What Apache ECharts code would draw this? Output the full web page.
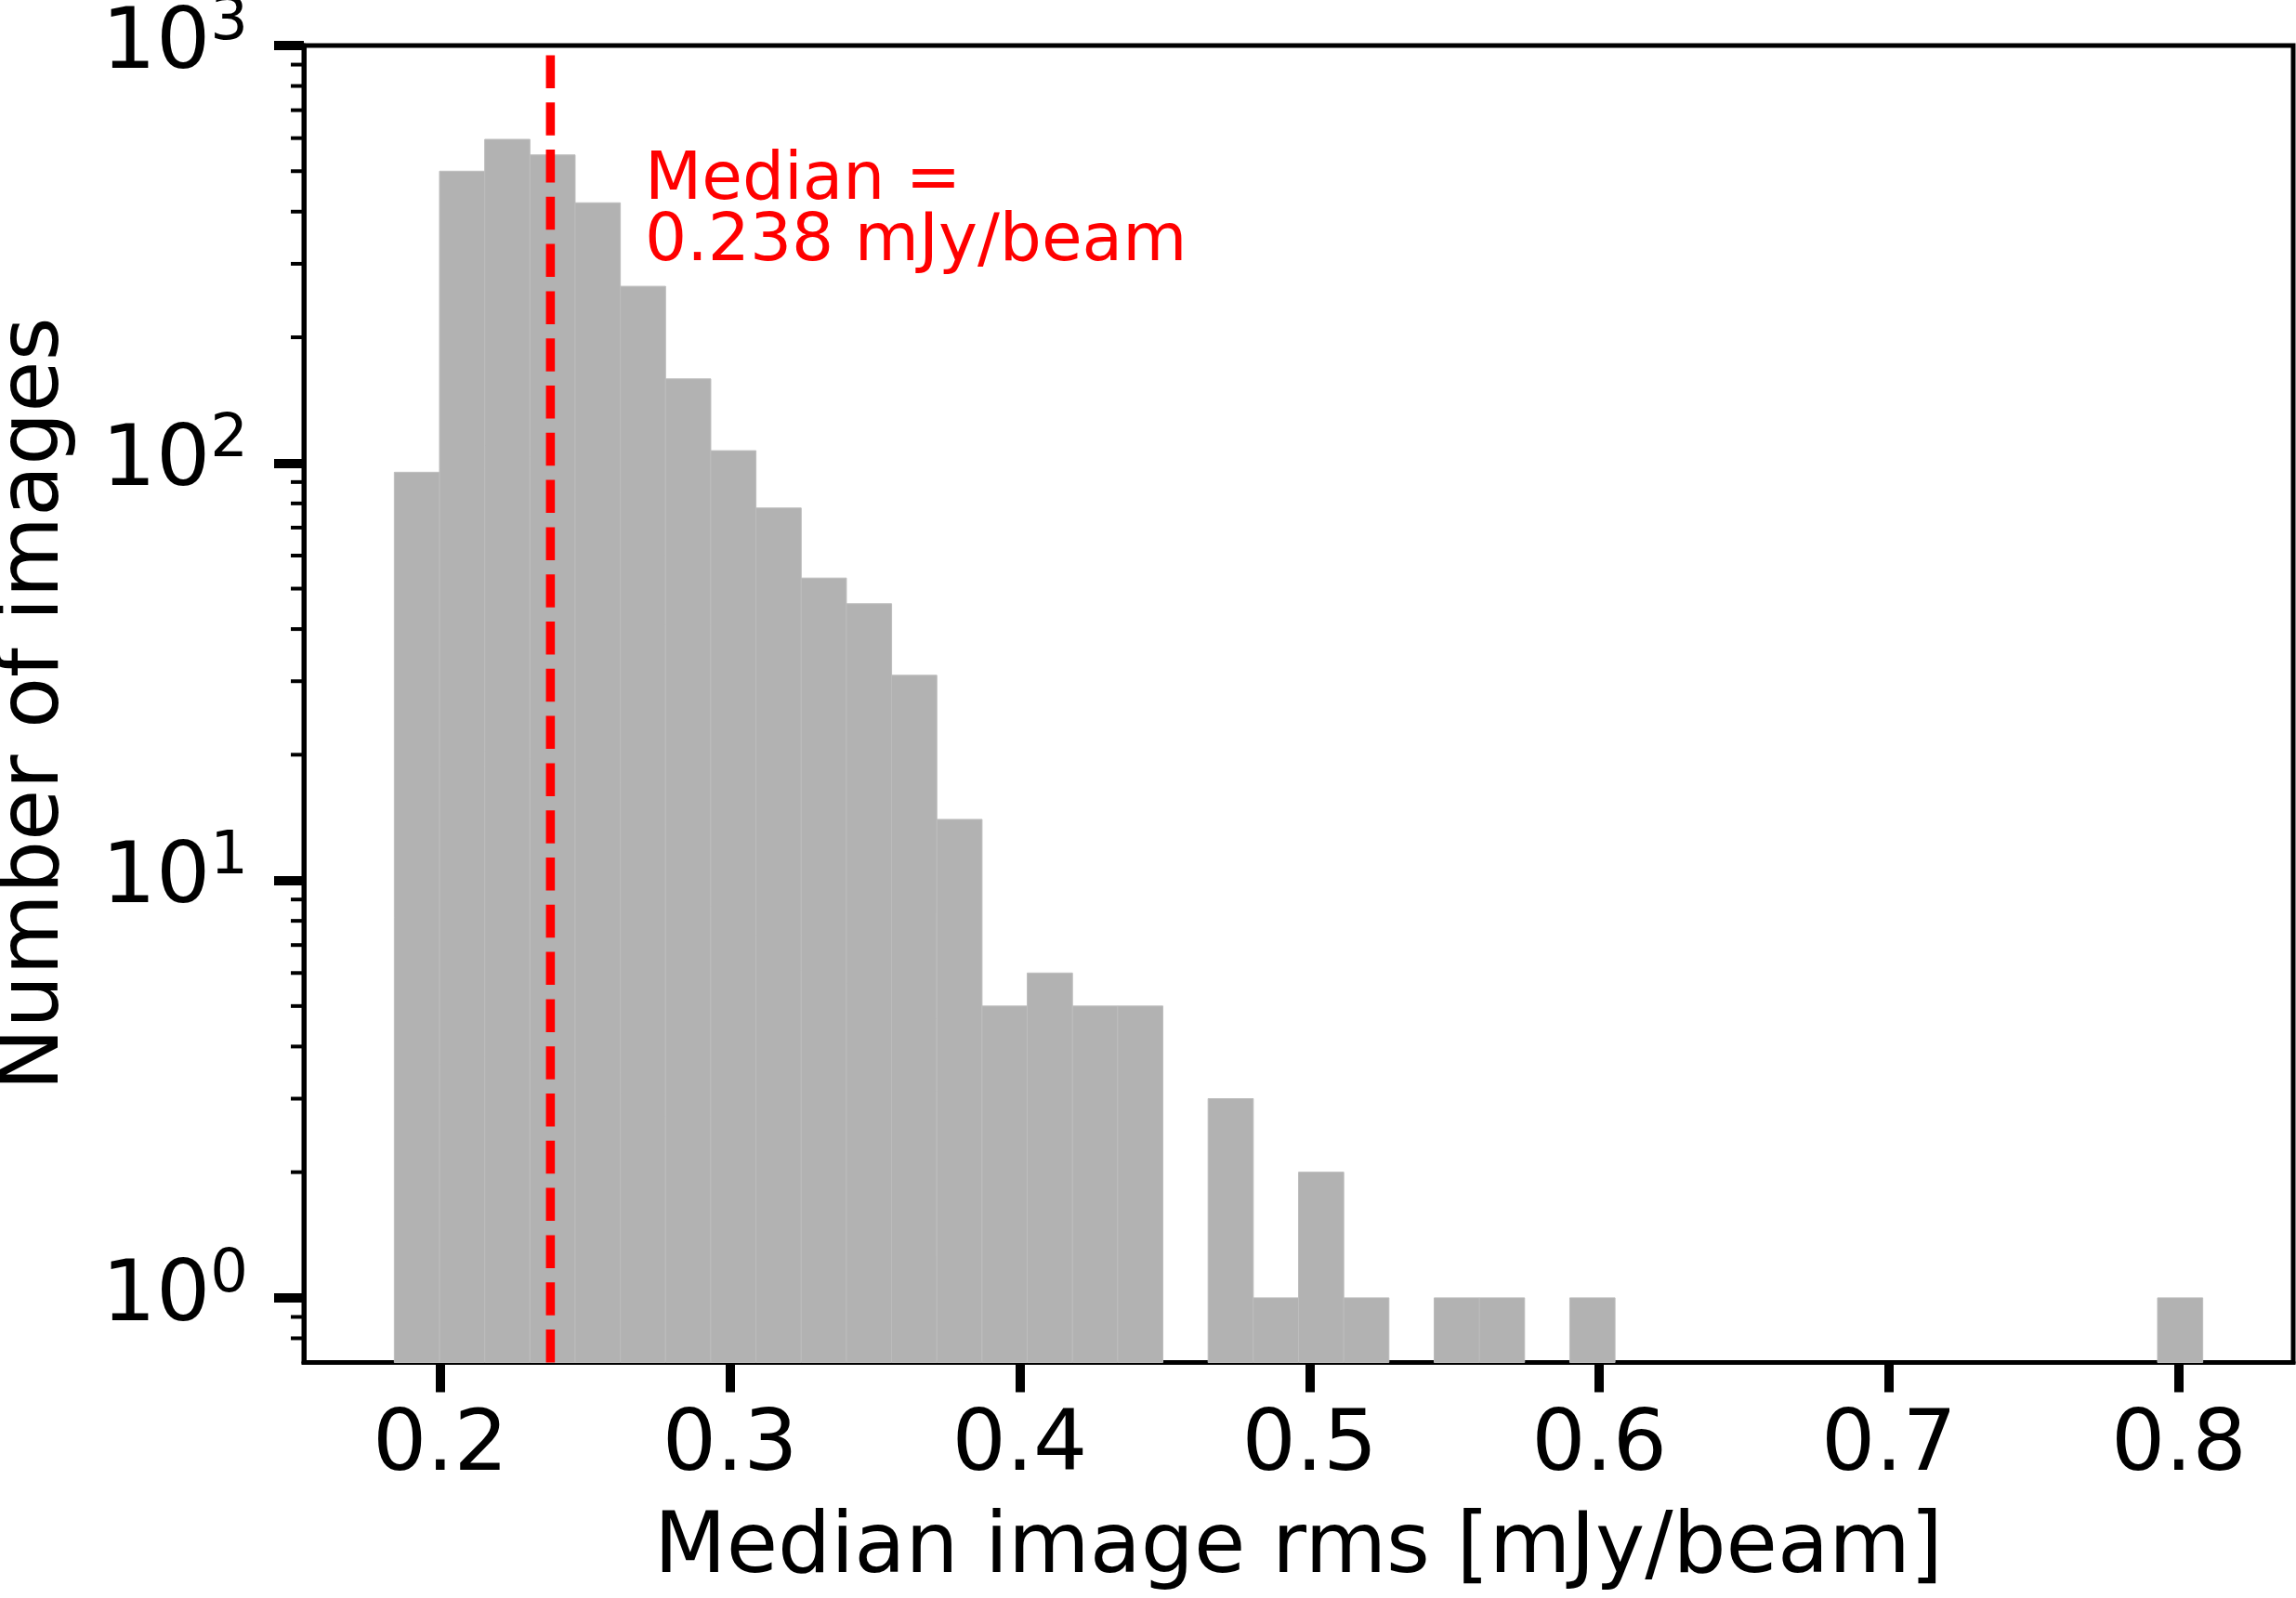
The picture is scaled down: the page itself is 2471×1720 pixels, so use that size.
<!DOCTYPE html>
<html>
<head>
<meta charset="utf-8">
<script src="https://cdn.jsdelivr.net/npm/echarts@6/dist/echarts.min.js"></script>
<style>
  html, body { margin: 0; padding: 0; background: #ffffff; }
  #chart { width: 2471px; height: 1720px; }
</style>
</head>
<body>
<div id="chart"></div>
<script>
// ---- data ----
const binStart = 0.18412;          // left edge of first bin [mJy/beam]
const binWidth = 0.015604;         // bin width [mJy/beam]
const binCounts = [95, 500, 596, 547, 420, 265, 159, 107, 78, 53,
                   46, 31, 14, 5, 6, 5, 5, 0, 3, 1,
                   2, 1, 0, 1, 1, 0, 1, 0, 0, 0,
                   0, 0, 0, 0, 0, 0, 0, 0, 0, 1];
const medianValue = 0.238;
const medianText = ['Median =', '0.238 mJy/beam'];
const xTickValues = [0.2, 0.3, 0.4, 0.5, 0.6, 0.7, 0.8];
const yTickValues = [1, 10, 100, 1000];
const yMinorTickValues = [0.8, 0.9, 2, 3, 4, 5, 6, 7, 8, 9,
                          20, 30, 40, 50, 60, 70, 80, 90,
                          200, 300, 400, 500, 600, 700, 800, 900];
const xLabel = 'Median image rms [mJy/beam]';
const yLabel = 'Number of images';
const xMin = 0.1529, xMax = 0.8395;
const yMin = 0.7, yMax = 1000;

// ---- build histogram rectangles from data ----
const barData = [];
binCounts.forEach(function (c, i) {
  if (c > 0) {
    barData.push([binStart + i * binWidth, binStart + (i + 1) * binWidth, c]);
  }
});

const FONT = 'DejaVu Sans';
const chart = echarts.init(document.getElementById('chart'), null, { renderer: 'canvas' });

const option = {
  backgroundColor: '#ffffff',
  animation: false,
  grid: {
    left: 327, right: 3, top: 49, bottom: 253.5,
    show: true, borderColor: '#000', borderWidth: 5,
    containLabel: false,
    outerBoundsMode: 'none'
  },
  xAxis: {
    type: 'value',
    min: xMin, max: xMax,
    name: xLabel,
    nameLocation: 'middle',
    nameGap: 157,
    nameTextStyle: { fontFamily: FONT, fontSize: 90, color: '#000' },
    axisLine: { show: true, lineStyle: { color: '#000', width: 5 } },
    axisTick: { show: true, length: 32, customValues: xTickValues,
                lineStyle: { color: '#000', width: 10 } },
    axisLabel: { show: true, margin: 46, customValues: xTickValues,
                 fontFamily: FONT, fontSize: 91.7, color: '#000',
                 formatter: function (v) { return v.toFixed(1); } },
    splitLine: { show: false }
  },
  yAxis: {
    type: 'log',
    logBase: 10,
    min: yMin, max: yMax,
    name: yLabel,
    nameLocation: 'middle',
    nameRotate: 90,
    nameGap: 243,
    nameTextStyle: { fontFamily: FONT, fontSize: 90, color: '#000' },
    axisLine: { show: true, lineStyle: { color: '#000', width: 5 } },
    axisTick: { show: true, length: 32, customValues: yTickValues,
                lineStyle: { color: '#000', width: 10 } },
    axisLabel: {
      show: true, margin: 60, customValues: yTickValues, color: '#000',
      formatter: function (v) {
        return '{n|10}{s|' + Math.round(Math.log10(v)) + '}';
      },
      rich: {
        n: { fontFamily: FONT, fontSize: 91.7, color: '#000', padding: [10, 0, 10, 0] },
        s: { fontFamily: FONT, fontSize: 64, color: '#000', verticalAlign: 'top' }
      }
    },
    splitLine: { show: false }
  },
  series: [
    {
      type: 'custom',
      name: 'hist',
      coordinateSystem: 'cartesian2d',
      encode: { x: [0, 1], y: 2 },
      data: barData,
      z: 2,
      renderItem: function (params, api) {
        const p0 = api.coord([api.value(0), yMin]);
        const p1 = api.coord([api.value(1), api.value(2)]);
        return {
          type: 'rect',
          shape: { x: p0[0], y: p1[1], width: p1[0] - p0[0], height: p0[1] - p1[1] },
          style: { fill: '#b2b2b2', stroke: '#bdbdbd', lineWidth: 1 }
        };
      }
    },
    {
      type: 'custom',
      name: 'minorTicks',
      coordinateSystem: 'cartesian2d',
      encode: { y: 0 },
      data: yMinorTickValues.map(function (v) { return [v]; }),
      clip: false,
      silent: true,
      z: 5,
      renderItem: function (params, api) {
        const p = api.coord([xMin, api.value(0)]);
        return {
          type: 'line',
          shape: { x1: p[0] - 14, y1: p[1], x2: p[0], y2: p[1] },
          style: { stroke: '#000', lineWidth: 4 }
        };
      }
    },
    {
      type: 'line',
      name: 'median',
      data: [[medianValue, yMin], [medianValue, yMax]],
      showSymbol: false,
      symbol: 'none',
      z: 4,
      lineStyle: { color: '#ff0000', width: 9.6, type: [35.5, 15.3] }
    }
  ],
  graphic: [
    {
      type: 'text',
      left: 694,
      top: 160,
      z: 10,
      style: {
        text: medianText.join('\n'),
        fontFamily: FONT,
        fontSize: 71,
        lineHeight: 66,
        fill: '#ff0000'
      }
    }
  ]
};
chart.setOption(option);
</script>
</body>
</html>
